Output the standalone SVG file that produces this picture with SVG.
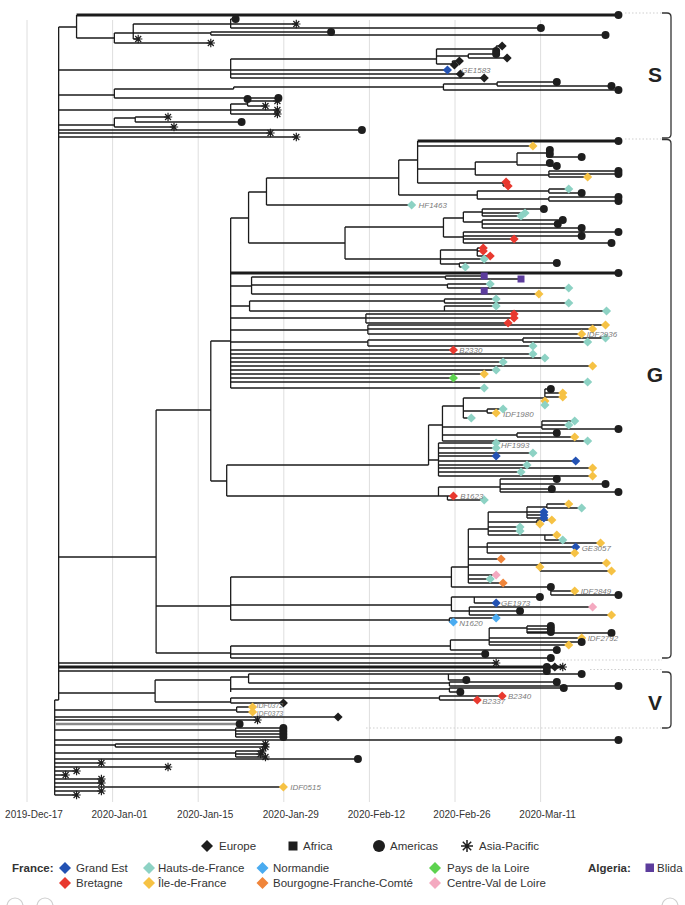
<svg xmlns="http://www.w3.org/2000/svg" xmlns:xlink="http://www.w3.org/1999/xlink" width="685" height="905" viewBox="0 0 685 905">
<style>
.br{fill:none;stroke:#1b1b1b;stroke-width:1.3}
.thick{fill:none;stroke:#1b1b1b;stroke-width:3.2}
.gry{fill:none;stroke:#8a8a8a;stroke-width:2.6}
.k{fill:#1e1e1e}.ge{fill:#2352b3}.hf{fill:#8dd2c4}.no{fill:#4aabf0}.pl{fill:#5dd24f}
.bre{fill:#e8392f}.id{fill:#f6c244}.bf{fill:#f0853a}.cv{fill:#f4a9c0}.bl{fill:#5c3c9c}
.tl{font-family:"Liberation Sans",Arial,sans-serif;font-size:8px;font-style:italic;fill:#7a7a7a}
.ts{font-size:7px}
.ax{font-family:"Liberation Sans",Arial,sans-serif;font-size:10px;fill:#333;text-anchor:middle}
.lg{font-family:"Liberation Sans",Arial,sans-serif;font-size:11.5px;fill:#333}
.lb{font-weight:bold}
.cl{font-family:"Liberation Sans",Arial,sans-serif;font-size:21px;font-weight:bold;fill:#222;text-anchor:middle}
.grid{stroke:#dedede;stroke-width:1}
.brk{fill:none;stroke:#333;stroke-width:1.3}
.dot{stroke:#cfcfcf;stroke-width:1;stroke-dasharray:1.5 2}
.ui{fill:none;stroke:#cfcfcf;stroke-width:1.2}
</style>
<defs>
<circle id="c" r="4"/>
<path id="d" d="M0,-4.6L4.6,0L0,4.6L-4.6,0Z"/>
<rect id="s" x="-3.5" y="-3.5" width="7" height="7"/>
<path id="a" d="M0,-4.2V4.2M-4.2,0H4.2M-3,-3L3,3M-3,3L3,-3" stroke="#1e1e1e" stroke-width="1.2" fill="none"/>
</defs>

<g id="grid">
<path class="grid" d="M27 20V802M112.6 20V802M198.2 20V802M283.8 20V802M369.4 20V802M455 20V802M540.6 20V802"/>
</g>
<g id="axis">
<text class="ax" x="34" y="818">2019-Dec-17</text>
<text class="ax" x="119.6" y="818">2020-Jan-01</text>
<text class="ax" x="205.2" y="818">2020-Jan-15</text>
<text class="ax" x="290.8" y="818">2020-Jan-29</text>
<text class="ax" x="376.4" y="818">2020-Feb-12</text>
<text class="ax" x="462" y="818">2020-Feb-26</text>
<text class="ax" x="547.6" y="818">2020-Mar-11</text>
</g>

<g id="clade-guides">
<path class="dot" d="M625 13H662M625 139H662M560 660H662M590 669.5H662M366 728H662"/>
<path class="brk" d="M662 13H667Q671 13 671 17V134Q671 138 667 138H662"/>
<path class="brk" d="M662 139.5H667Q671 139.5 671 143.5V654Q671 658 667 658H662"/>
<path class="brk" d="M662 672H667Q671 672 671 676V724Q671 728 667 728H662"/>
<text id="label-S" class="cl" x="655" y="82">S</text>
<text id="label-G" class="cl" x="655" y="382">G</text>
<text id="label-V" class="cl" x="655" y="710">V</text>
</g>

<g transform="scale(0.9943 1)">
<g id="branches">
<path class="br" d="M59 27V700M55 700V795M55 700H59
M59 27H77M77 15V38M77 38H115M115 33V43M115 43H212M115 33H134M134 24V39M134 39H139M134 24H232M134 33H212
M232 19V28M232 19H237M232 24H298M232 28H544M212 32V35M212 32H333M212 35H609
M59 70H450M232 59V78M232 59H439M232 74H463M232 78H487M439 49V64M439 49H499M439 56H471M439 64H455
M499 46V51M499 46H505M471 54V58M471 54H499M471 58H510M455 61V65M455 61H462M455 65H457
M59 95H115M115 89V98M115 98H280M115 89H235M235 87V89M235 87H446M446 84V90M446 84H500M446 90H622M500 82V86M500 82H560M500 86H615
M59 110H232M232 104V114M232 104H249M249 99V106M249 101H279M249 106H267M232 110H279M232 114H279
M59 125H115M115 118V127M115 118H136M136 117V122M136 117H169M136 122H243M115 127H175
M59 130H364M59 133H272M59 137H298
M59 557H157M157 410V653M157 410H212M212 341V481M212 341H232M232 218V388
M232 218H250M250 192V243M250 192H268M268 178V205M268 178H401M401 160V195M401 160H420M420 141V183
M420 146H536M420 169H478M478 162V175M478 162H520M520 153V165M520 153H550M550 150V157M550 150H553M550 154H553M550 157H585M520 165H552M552 163V166M552 163H553M552 166H560
M478 175H552M552 171V177M552 171H622M552 174H622M552 177H591
M420 183H506M506 182V186M506 182H509M506 186H511
M401 195H480M480 191V199M480 191H552M552 189V193M552 189H572M552 193H585M480 199H552M552 197V201M552 197H622M552 201H622
M268 205H414
M250 243H347M347 227V259M347 227H446M446 218V237M446 218H466M466 212V222M466 212H485M485 209V216M485 209H547M485 213H528M485 216H524
M466 222H485M485 220V228M485 220H566M485 224H561M485 228H585
M446 237H466M466 232V243M466 232H622M466 236H585M466 239H517M466 243H615
M347 259H443M443 250V264M443 250H480M480 248V256M480 248H486M480 251H486M480 256H493M443 259H487M443 264H462M462 263V267M462 263H560M462 267H468
M232 286H253M253 277V294M253 277H448M448 276V279M448 276H487M448 279H524M253 285H450M450 284V288M450 284H493M450 288H572M253 294H487M487 291V294M487 294H542
M232 306H251M251 301V311M251 301H447M447 299V303M447 299H499M447 303H572M251 311H447M447 306V311M447 306H499M447 311H610
M232 318H368M368 314V323M368 314H517M368 318H517M368 323H511
M232 330H370M370 325V334M370 325H609M370 329H596M370 334H585
M232 342H370M370 340V346M370 340H526M526 338V342M526 338H609M526 342H591M370 346H536
M232 350H456M232 354H536M232 358H548M232 362H506M232 366H596M232 370H499M232 374H487M232 378H456M232 382H591M232 388H487
M212 481H228M228 465V496M228 465H431M431 425V465M431 425H445M445 406V441M445 406H466M466 398V418M466 398H548M548 389V405M548 389H554M548 393H566M548 397H566
M466 411H490M490 409V413M490 409H506M490 413H499M466 418H474
M445 427H545M545 421V429M545 421H578M545 425H572M545 429H622
M445 435H520M520 433V437M520 433H560M520 437H578M445 441H591
M431 460H441M441 443V476M441 443H499M441 448H499M441 453H536M441 456H499M441 461H579M441 465H530M441 468H596M441 472H524M441 476H596
M228 496H441M441 487V496M441 487H503M503 479V492M503 479H560M503 484H609M503 489H555M503 492H622M441 496H450M450 496V500M450 496H456M450 500H487
M157 606H232M232 577V620M232 577H454M454 567V587M454 567H471M471 529V583
M471 529H491M491 512V535M491 512H530M530 507V518M530 507H550M550 504V508M550 504H572M550 508H585M530 512H547M530 515H547M530 518H547M491 522H540M540 520V524M540 520H555M540 524H543M491 527H523M491 531H523M491 535H548M548 535V540M548 535H560M548 540H566
M471 547H490M490 543V553M490 543H604M490 547H579M490 553H578
M471 559H504M471 565H543M543 563V571M543 563H610M543 571H615M471 575H499M471 579H493M471 583H506
M454 587H554M554 587V595M554 591H578M554 595H622
M232 605H454M454 597V611M454 597H477M477 597V603M477 597H543M477 603H499M454 611H472M472 607V615M472 607H596M472 611H523M472 615H615
M232 620H452M452 618V622M452 618H499M452 622H456
M157 653H232M232 646V658M232 646H453M453 640V650M453 640H492M492 628V645M492 628H530M530 626V633M530 626H554M530 629H554M530 632H554M530 633H615M492 638H585M492 642H585M492 645H572M453 650H560M232 654H488M232 658H554
M59 663H499M59 671H550
M59 693H156M156 680V702M156 680H232M232 677V692M232 677H250M250 674V683M250 674H451M451 674V680M451 674H585M451 680H469M250 683H452M452 682V686M452 682H560M452 686H622M232 689H452M452 688V692M452 688H567M452 692H463
M156 702H232M232 698V703M232 698H442M442 696V700M442 696H505M442 700H480M232 703H285
M55 710H238M238 707V712M238 707H254M238 712H254
M55 717H340M55 720H259M55 730H237M237 728V737M237 728H285M237 731H285M237 734H285M237 737H285
M55 740H622M55 745H116M116 744V747M116 744H267M116 747H267M55 753H237M237 751V757M237 751H264M237 754H262M237 757H267
M55 759H360M55 763H102M55 767H169M55 771H77M55 775H66M55 779H102M55 783H102M55 787H285M55 791H102M55 795H77"/>
<path class="thick" d="M77 15H622M420 141H622M232 273H622M59 667H566"/>
<path class="gry" d="M56 724H241"/>
</g>

<g id="tips-S">
<use href="#c" class="k" x="622" y="15"/><use href="#c" class="k" x="237" y="19"/><use href="#a" x="298" y="24"/><use href="#c" class="k" x="544" y="28"/>
<use href="#c" class="k" x="333" y="32"/><use href="#c" class="k" x="609" y="35"/><use href="#a" x="139" y="39"/><use href="#a" x="212" y="43"/>
<use href="#d" class="k" x="505" y="46"/><use href="#c" class="k" x="499" y="51"/><use href="#c" class="k" x="499" y="54"/><use href="#d" class="k" x="510" y="58"/>
<use href="#d" class="k" x="462" y="61"/><use href="#d" class="k" x="457" y="65"/><use href="#d" class="ge" x="450" y="70"/><use href="#d" class="k" x="463" y="74"/><use href="#d" class="k" x="487" y="78"/>
<use href="#c" class="k" x="560" y="82"/><use href="#c" class="k" x="615" y="86"/><use href="#c" class="k" x="622" y="90"/><use href="#c" class="k" x="280" y="98"/>
<use href="#c" class="k" x="249" y="99"/><use href="#a" x="279" y="101"/><use href="#a" x="267" y="106"/><use href="#a" x="279" y="110"/><use href="#a" x="279" y="114"/>
<use href="#a" x="169" y="117"/><use href="#c" class="k" x="243" y="122"/><use href="#a" x="175" y="127"/>
<use href="#c" class="k" x="364" y="130"/><use href="#a" x="272" y="133"/><use href="#a" x="298" y="137"/>
</g>

<g id="tips-G">
<use href="#c" class="k" x="622" y="141"/><use href="#d" class="id" x="536" y="146"/><use href="#c" class="k" x="553" y="150"/><use href="#c" class="k" x="553" y="154"/><use href="#c" class="k" x="585" y="157"/>
<use href="#c" class="k" x="553" y="163"/><use href="#c" class="k" x="560" y="166"/><use href="#c" class="k" x="622" y="171"/><use href="#c" class="k" x="622" y="174"/><use href="#d" class="id" x="591" y="177"/>
<use href="#d" class="bre" x="509" y="182"/><use href="#d" class="bre" x="511" y="186"/><use href="#d" class="hf" x="572" y="189"/><use href="#c" class="k" x="585" y="193"/><use href="#c" class="k" x="622" y="197"/><use href="#c" class="k" x="622" y="201"/>
<use href="#d" class="hf" x="414" y="205"/>
<use href="#c" class="k" x="547" y="209"/><use href="#d" class="hf" x="528" y="213"/><use href="#d" class="hf" x="524" y="216"/><use href="#c" class="k" x="566" y="220"/><use href="#c" class="k" x="561" y="224"/><use href="#c" class="k" x="585" y="228"/>
<use href="#c" class="k" x="622" y="232"/><use href="#c" class="k" x="585" y="236"/><use href="#d" class="bre" x="517" y="239"/><use href="#c" class="k" x="615" y="243"/>
<use href="#d" class="bre" x="486" y="248"/><use href="#d" class="bre" x="486" y="251"/><use href="#d" class="bre" x="493" y="256"/><use href="#d" class="hf" x="487" y="259"/><use href="#c" class="k" x="560" y="263"/><use href="#d" class="hf" x="468" y="267"/>
<use href="#c" class="k" x="622" y="273"/>
<use href="#s" class="bl" x="487" y="276"/><use href="#s" class="bl" x="524" y="279"/><use href="#d" class="hf" x="493" y="284"/><use href="#d" class="hf" x="572" y="288"/><use href="#s" class="bl" x="487" y="291"/><use href="#d" class="id" x="542" y="294"/>
<use href="#d" class="hf" x="499" y="299"/><use href="#d" class="hf" x="572" y="303"/><use href="#d" class="hf" x="499" y="306"/><use href="#d" class="hf" x="610" y="311"/>
<use href="#d" class="bre" x="517" y="314"/><use href="#d" class="bre" x="517" y="318"/><use href="#d" class="bre" x="511" y="323"/>
<use href="#d" class="id" x="609" y="325"/><use href="#d" class="id" x="596" y="329"/><use href="#d" class="id" x="585" y="334"/>
<use href="#d" class="hf" x="609" y="338"/><use href="#d" class="hf" x="591" y="342"/><use href="#d" class="hf" x="536" y="346"/>
<use href="#d" class="bre" x="456" y="350"/><use href="#d" class="hf" x="536" y="354"/><use href="#d" class="hf" x="548" y="358"/><use href="#d" class="hf" x="506" y="362"/><use href="#d" class="id" x="596" y="366"/>
<use href="#d" class="hf" x="499" y="370"/><use href="#d" class="id" x="487" y="374"/><use href="#d" class="pl" x="456" y="378"/><use href="#d" class="hf" x="591" y="382"/><use href="#d" class="hf" x="487" y="388"/>
<use href="#c" class="k" x="554" y="389"/><use href="#d" class="id" x="566" y="393"/><use href="#d" class="id" x="566" y="397"/><use href="#d" class="id" x="548" y="401"/><use href="#d" class="hf" x="548" y="405"/>
<use href="#d" class="hf" x="506" y="409"/><use href="#d" class="id" x="499" y="413"/><use href="#d" class="hf" x="474" y="418"/>
<use href="#d" class="hf" x="578" y="421"/><use href="#d" class="hf" x="572" y="425"/><use href="#c" class="k" x="622" y="429"/><use href="#c" class="k" x="560" y="433"/><use href="#d" class="id" x="578" y="437"/><use href="#d" class="hf" x="591" y="441"/>
<use href="#d" class="hf" x="499" y="443"/><use href="#d" class="hf" x="499" y="448"/><use href="#d" class="hf" x="536" y="453"/><use href="#d" class="ge" x="499" y="456"/><use href="#d" class="ge" x="579" y="461"/>
<use href="#d" class="hf" x="530" y="465"/><use href="#d" class="id" x="596" y="468"/><use href="#d" class="hf" x="524" y="472"/><use href="#d" class="id" x="596" y="476"/>
<use href="#c" class="k" x="560" y="479"/><use href="#c" class="k" x="609" y="484"/><use href="#c" class="k" x="555" y="489"/><use href="#c" class="k" x="622" y="492"/><use href="#d" class="bre" x="456" y="496"/><use href="#d" class="hf" x="487" y="500"/>
<use href="#d" class="id" x="572" y="504"/><use href="#d" class="hf" x="585" y="508"/><use href="#d" class="ge" x="547" y="512"/><use href="#d" class="ge" x="547" y="515"/><use href="#d" class="ge" x="547" y="518"/>
<use href="#d" class="id" x="555" y="520"/><use href="#d" class="id" x="543" y="524"/><use href="#d" class="hf" x="523" y="527"/><use href="#d" class="hf" x="523" y="531"/><use href="#d" class="id" x="560" y="535"/><use href="#d" class="hf" x="566" y="540"/>
<use href="#d" class="id" x="604" y="543"/><use href="#d" class="ge" x="579" y="547"/><use href="#d" class="id" x="578" y="553"/>
<use href="#d" class="bf" x="504" y="559"/><use href="#d" class="id" x="610" y="563"/><use href="#d" class="id" x="543" y="567"/><use href="#d" class="id" x="615" y="571"/><use href="#d" class="cv" x="499" y="575"/><use href="#d" class="hf" x="493" y="579"/><use href="#d" class="bf" x="506" y="583"/>
<use href="#c" class="k" x="554" y="587"/><use href="#d" class="id" x="578" y="591"/><use href="#c" class="k" x="622" y="595"/>
<use href="#c" class="k" x="543" y="597"/><use href="#d" class="ge" x="499" y="603"/><use href="#d" class="cv" x="596" y="607"/><use href="#c" class="k" x="523" y="611"/><use href="#d" class="id" x="615" y="615"/>
<use href="#d" class="no" x="499" y="618"/><use href="#d" class="no" x="456" y="622"/>
<use href="#c" class="k" x="554" y="626"/><use href="#c" class="k" x="554" y="629"/><use href="#c" class="k" x="554" y="632"/><use href="#c" class="k" x="615" y="633"/><use href="#d" class="id" x="585" y="638"/>
<use href="#c" class="k" x="585" y="642"/><use href="#d" class="id" x="572" y="645"/><use href="#c" class="k" x="560" y="650"/><use href="#c" class="k" x="488" y="654"/><use href="#c" class="k" x="554" y="658"/>
</g>

<g id="tips-basal">
<use href="#a" x="499" y="663"/><use href="#c" class="k" x="550" y="667"/><use href="#d" class="k" x="558" y="667"/><use href="#a" x="566" y="667"/><use href="#c" class="k" x="550" y="671"/>
</g>

<g id="tips-V">
<use href="#c" class="k" x="585" y="674"/><use href="#c" class="k" x="469" y="680"/><use href="#c" class="k" x="560" y="682"/><use href="#c" class="k" x="622" y="686"/><use href="#c" class="k" x="567" y="688"/><use href="#c" class="k" x="463" y="692"/>
<use href="#d" class="bre" x="505" y="696"/><use href="#d" class="bre" x="480" y="700"/><use href="#d" class="k" x="285" y="703"/>
</g>

<g id="tips-root">
<use href="#d" class="id" x="254" y="707"/><use href="#d" class="id" x="254" y="712"/><use href="#d" class="k" x="340" y="717"/><use href="#a" x="259" y="720"/><use href="#c" class="k" x="241" y="724"/>
<use href="#c" class="k" x="285" y="728"/><use href="#c" class="k" x="285" y="731"/><use href="#c" class="k" x="285" y="734"/><use href="#c" class="k" x="285" y="737"/><use href="#c" class="k" x="622" y="740"/>
<use href="#a" x="267" y="744"/><use href="#a" x="267" y="747"/><use href="#a" x="264" y="751"/><use href="#a" x="262" y="754"/><use href="#a" x="267" y="757"/><use href="#c" class="k" x="360" y="759"/>
<use href="#a" x="102" y="763"/><use href="#a" x="169" y="767"/><use href="#a" x="77" y="771"/><use href="#a" x="66" y="775"/><use href="#a" x="102" y="779"/><use href="#a" x="102" y="783"/>
<use href="#d" class="id" x="285" y="787"/><use href="#a" x="102" y="791"/><use href="#a" x="77" y="795"/>
</g>

<g id="tip-labels">
<text class="tl" x="464" y="73">GE1583</text>
<text class="tl" x="421" y="208">HF1463</text>
<text class="tl" x="590" y="337">IDF2936</text>
<text class="tl" x="462" y="353">B2330</text>
<text class="tl" x="506" y="417">IDF1980</text>
<text class="tl" x="504" y="448">HF1993</text>
<text class="tl" x="463" y="499">B1623</text>
<text class="tl" x="585" y="551">GE3057</text>
<text class="tl" x="584" y="594">IDF2849</text>
<text class="tl" x="504" y="606">GE1973</text>
<text class="tl" x="462" y="626">N1620</text>
<text class="tl" x="591" y="641">IDF2792</text>
<text class="tl" x="511" y="699">B2340</text>
<text class="tl" x="485" y="704">B2337</text>
<text class="tl ts" x="258" y="708">IDF0372</text>
<text class="tl ts" x="258" y="716">IDF0373</text>
<text class="tl" x="292" y="790">IDF0515</text>
</g>
</g>

<g id="legend">
<path class="k" d="M207,840L213,846L207,852L201,846Z"/>
<text class="lg" x="219" y="850">Europe</text>
<rect class="k" x="288.5" y="841.5" width="9" height="9"/>
<text class="lg" x="303" y="850">Africa</text>
<circle class="k" cx="379" cy="846" r="6"/>
<text class="lg" x="390" y="850">Americas</text>
<path d="M467,840V852M461,846H473M462.8,841.8L471.2,850.2M462.8,850.2L471.2,841.8" stroke="#1e1e1e" stroke-width="1.5" fill="none"/>
<text class="lg" x="479" y="850">Asia-Pacific</text>

<text class="lg lb" x="12" y="872">France:</text>
<path class="ge" d="M65,862L71,868L65,874L59,868Z"/>
<text class="lg" x="76" y="872">Grand Est</text>
<path class="hf" d="M149,862L155,868L149,874L143,868Z"/>
<text class="lg" x="158" y="872">Hauts-de-France</text>
<path class="no" d="M262.5,862L268.5,868L262.5,874L256.5,868Z"/>
<text class="lg" x="273" y="872">Normandie</text>
<path class="pl" d="M435,862L441,868L435,874L429,868Z"/>
<text class="lg" x="447" y="872">Pays de la Loire</text>
<text class="lg lb" x="588" y="872">Algeria:</text>
<rect class="bl" x="645.5" y="863.5" width="8.5" height="8.5"/>
<text class="lg" x="657" y="872">Blida</text>

<path class="bre" d="M65,877L71,883L65,889L59,883Z"/>
<text class="lg" x="76" y="887">Bretagne</text>
<path class="id" d="M149,877L155,883L149,889L143,883Z"/>
<text class="lg" x="158" y="887">Île-de-France</text>
<path class="bf" d="M262.5,877L268.5,883L262.5,889L256.5,883Z"/>
<text class="lg" x="273" y="887">Bourgogne-Franche-Comté</text>
<path class="cv" d="M435,877L441,883L435,889L429,883Z"/>
<text class="lg" x="447" y="887">Centre-Val de Loire</text>
</g>

<g id="ui-controls">
<circle class="ui" cx="15" cy="906" r="8"/>
<circle class="ui" cx="45" cy="906" r="8"/>
<circle class="ui" cx="670" cy="906" r="8"/>
</g>
</svg>
